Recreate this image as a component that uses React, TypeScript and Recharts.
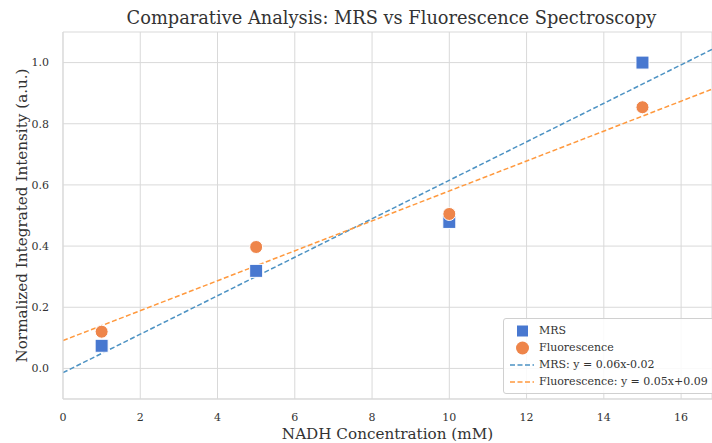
import { ComposedChart, CartesianGrid, Line, Scatter, XAxis, YAxis } from 'recharts';

const concentrations = [1, 5, 10, 15];
const mrsValues = [0.074, 0.319, 0.479, 1.0];
const fluorescenceValues = [0.12, 0.397, 0.505, 0.854];

// fitted line endpoints (x = 0 and the right edge)
const mrsFit = [
  { x: 0, y: -0.014 },
  { x: 16.8, y: 1.043 },
];
const fluorescenceFit = [
  { x: 0, y: 0.091 },
  { x: 16.8, y: 0.913 },
];

const xTicks = [0, 2, 4, 6, 8, 10, 12, 14, 16];
const yTicks = [0, 0.2, 0.4, 0.6, 0.8, 1.0];

const mrsData = concentrations.map((x, i) => ({ x, y: mrsValues[i] }));
const fluorescenceData = concentrations.map((x, i) => ({ x, y: fluorescenceValues[i] }));

const FONT = '"DejaVu Serif", serif';
const TEXT = '#333333';
const GRID = '#d9d9d9';
const BLUE = '#4878d0';
const ORANGE = '#ee854a';
const FIT_BLUE = '#4c92c3';
const FIT_ORANGE = '#ff993e';

const SquareMark = (props: any) => (
  <rect x={props.cx - 6.5} y={props.cy - 6.5} width={13} height={13} fill={BLUE} stroke="#fff" strokeWidth={1} />
);
const CircleMark = (props: any) => <circle cx={props.cx} cy={props.cy} r={6.5} fill={ORANGE} stroke="#fff" strokeWidth={1} />;

function LegendBox() {
  const row = (i: number) =>
    ({ position: 'absolute', left: 0, top: 3 + i * 17, height: 17, display: 'flex', alignItems: 'center' }) as const;
  const icon = { width: 35, display: 'flex', justifyContent: 'center' } as const;
  return (
    <div
      style={{
        position: 'absolute',
        left: 503,
        top: 318,
        width: 215,
        height: 76,
        boxSizing: 'border-box',
        border: '1px solid #d0d0d0',
        borderRadius: 3,
        background: 'rgba(255,255,255,0.85)',
        fontFamily: FONT,
        fontSize: 11,
        color: TEXT,
        whiteSpace: 'nowrap',
      }}
    >
      <div style={row(0)}>
        <span style={icon}>
          <svg width={26} height={12}>
            <rect x={8} y={0.5} width={11} height={11} fill={BLUE} />
          </svg>
        </span>
        MRS
      </div>
      <div style={row(1)}>
        <span style={icon}>
          <svg width={26} height={14}>
            <circle cx={13.5} cy={7} r={6.5} fill={ORANGE} />
          </svg>
        </span>
        Fluorescence
      </div>
      <div style={row(2)}>
        <span style={icon}>
          <svg width={26} height={4}>
            <line x1={1} y1={2} x2={25} y2={2} stroke={FIT_BLUE} strokeWidth={1.5} strokeDasharray="5 2.5" />
          </svg>
        </span>
        MRS: y = 0.06x-0.02
      </div>
      <div style={row(3)}>
        <span style={icon}>
          <svg width={26} height={4}>
            <line x1={1} y1={2} x2={25} y2={2} stroke={FIT_ORANGE} strokeWidth={1.5} strokeDasharray="5 2.5" />
          </svg>
        </span>
        Fluorescence: y = 0.05x+0.09
      </div>
    </div>
  );
}

export default function App() {
  return (
    <div style={{ position: 'absolute', left: 0, top: 0, width: 712, height: 443, overflow: 'hidden', background: '#fff' }}>
      <div
        style={{
          position: 'absolute',
          left: 67,
          width: 649,
          top: 6,
          textAlign: 'center',
          fontFamily: FONT,
          fontSize: 17.8,
          lineHeight: '24px',
          color: TEXT,
          whiteSpace: 'nowrap',
        }}
      >
        Comparative Analysis: MRS vs Fluorescence Spectroscopy
      </div>
      <ComposedChart width={712} height={443} margin={{ top: 32, right: 0, bottom: 0, left: 0 }}>
        <CartesianGrid stroke={GRID} strokeWidth={1} />
        <XAxis
          type="number"
          dataKey="x"
          domain={[0, 16.8]}
          ticks={xTicks}
          allowDataOverflow
          height={44}
          stroke={GRID}
          tickLine={false}
          tick={{ fill: TEXT, fontSize: 11, fontFamily: FONT }}
          tickMargin={8}
          label={{ value: 'NADH Concentration (mM)', position: 'insideBottom', offset: 4, fill: TEXT, fontSize: 15.2, fontFamily: FONT }}
        />
        <YAxis
          type="number"
          dataKey="y"
          domain={[-0.1, 1.1]}
          ticks={yTicks}
          allowDataOverflow
          width={63}
          stroke={GRID}
          tickLine={false}
          tickFormatter={(v: number) => v.toFixed(1)}
          tick={{ fill: TEXT, fontSize: 11, fontFamily: FONT }}
          tickMargin={8}
          label={{
            value: 'Normalized Integrated Intensity (a.u.)',
            angle: -90,
            position: 'insideLeft',
            offset: 22,
            style: { textAnchor: 'middle' },
            fill: TEXT,
            fontSize: 15.2,
            fontFamily: FONT,
          }}
        />
        <Line
          data={mrsFit}
          dataKey="y"
          type="linear"
          stroke={FIT_BLUE}
          strokeWidth={1.5}
          strokeDasharray="5 2.5"
          dot={false}
          activeDot={false}
          isAnimationActive={false}
        />
        <Line
          data={fluorescenceFit}
          dataKey="y"
          type="linear"
          stroke={FIT_ORANGE}
          strokeWidth={1.5}
          strokeDasharray="5 2.5"
          dot={false}
          activeDot={false}
          isAnimationActive={false}
        />
        <Scatter data={mrsData} dataKey="y" shape={SquareMark} isAnimationActive={false} />
        <Scatter data={fluorescenceData} dataKey="y" shape={CircleMark} isAnimationActive={false} />
      </ComposedChart>
      <LegendBox />
    </div>
  );
}
